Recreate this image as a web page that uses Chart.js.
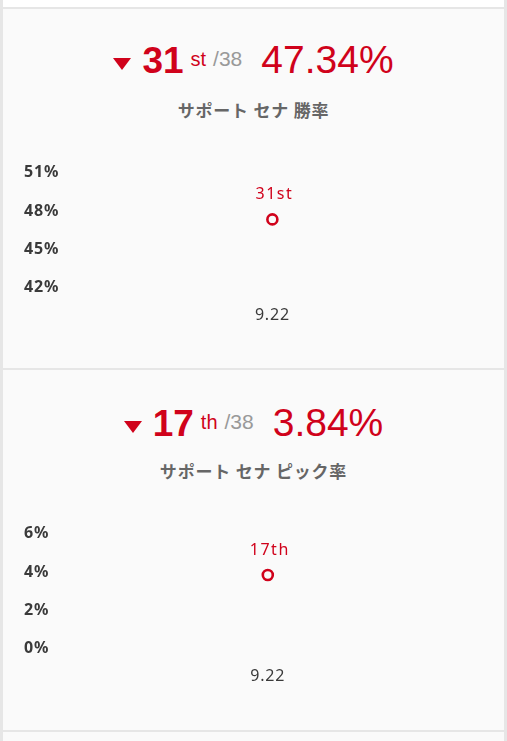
<!DOCTYPE html>
<html lang="ja">
<head>
<meta charset="utf-8">
<title>サポート セナ</title>
<script src="https://cdn.jsdelivr.net/npm/chart.js@4/dist/chart.umd.min.js"></script>
<style>
  html, body { margin:0; padding:0; }
  body { width:507px; height:741px; background:#e6e6e6; position:relative; overflow:hidden;
         font-family:"Liberation Sans", Arial, sans-serif; }
  .strip { position:absolute; left:3px; width:501px; }
  .top   { top:0; height:7px; background:#fff; }
  .panel { background:#fafafa; }
  .head  { position:absolute; left:0; width:100%; text-align:center; white-space:nowrap; color:#d0021b; }
  .tri   { display:inline-block; width:0; height:0; border-left:9.5px solid transparent;
           border-right:9.5px solid transparent; border-top:12px solid #d0021b; margin-right:11px;
           vertical-align:3px; }
  .rank  { font-size:37px; font-weight:bold; }
  .suf   { font-size:20px; position:relative; top:-7px; margin-left:7px; }
  .tot   { font-size:21px; color:#999; position:relative; top:-7px; margin-left:7px; }
  .pct   { font-size:39px; margin-left:19px; }
  .sub   { position:absolute; left:0; width:100%; text-align:center; color:#666; font-weight:bold;
           font-size:17px; letter-spacing:0.8px; font-family:"Noto Sans CJK JP", sans-serif; }
  .cv    { position:absolute; left:0; width:507px; height:200px; }
</style>
</head>
<body>
<div class="strip top"></div>
<div class="strip panel" style="top:9px;height:359px">
  <div class="head" style="top:29px"><span class="tri"></span><span class="rank" id="r1"></span><span class="suf" id="s1"></span><span class="tot" id="t1"></span><span class="pct" id="p1"></span></div>
  <div class="sub" id="l1" style="top:88px"></div>
</div>
<div class="strip panel" style="top:370px;height:360px">
  <div class="head" style="top:31px"><span class="tri"></span><span class="rank" id="r2"></span><span class="suf" id="s2"></span><span class="tot" id="t2"></span><span class="pct" id="p2"></span></div>
  <div class="sub" id="l2" style="top:88px"></div>
</div>
<div class="strip panel" style="top:732px;height:20px"></div>

<div class="cv" style="top:150px"><canvas id="c1"></canvas></div>
<div class="cv" style="top:511px"><canvas id="c2"></canvas></div>

<script>
// データ
const patches     = ['9.22'];
const totalChamps = 38;

const winTitle  = 'サポート セナ 勝率';
const winRate   = [47.34];
const winRank   = [31];
const winTicks  = [42, 45, 48, 51];

const pickTitle = 'サポート セナ ピック率';
const pickRate  = [3.84];
const pickRank  = [17];
const pickTicks = [0, 2, 4, 6];

const RED = '#d0021b';

const ordinal = n => {
  const t = n % 100;
  if (t >= 11 && t <= 13) return 'th';
  return ({1:'st', 2:'nd', 3:'rd'})[n % 10] || 'th';
};

function paintHeader(i, rank, rate, title){
  const last = rank.length - 1;
  document.getElementById('r'+i).textContent = rank[last];
  document.getElementById('s'+i).textContent = ordinal(rank[last]);
  document.getElementById('t'+i).textContent = '/' + totalChamps;
  document.getElementById('p'+i).textContent = rate[last].toFixed(2) + '%';
  document.getElementById('l'+i).textContent = title;
}

// 文字間を少し広げる
const spacing = {
  id: 'spacing',
  beforeDraw(chart){ chart.ctx.letterSpacing = '0.8px'; }
};

// 点の上に順位を表示
const rankLabels = {
  id: 'rankLabels',
  afterDatasetsDraw(chart, args, opts){
    const ctx = chart.ctx;
    const meta = chart.getDatasetMeta(0);
    ctx.save();
    ctx.font = '16px "Noto Sans", sans-serif';
    ctx.fillStyle = RED;
    ctx.textAlign = 'center';
    ctx.textBaseline = 'middle';
    ctx.letterSpacing = '1.5px';
    meta.data.forEach((pt, k) => {
      const r = opts.ranks[k];
      ctx.fillText(r + ordinal(r), pt.x + 2, pt.y - 25);
    });
    ctx.restore();
  }
};

function makeChart(id, values, ranks, ticks){
  return new Chart(document.getElementById(id).getContext('2d'), {
    type: 'line',
    data: {
      labels: patches,
      datasets: [{
        data: values,
        borderColor: RED,
        backgroundColor: '#fafafa',
        pointRadius: 5,
        pointBorderWidth: 2.6,
        pointBorderColor: RED,
        pointBackgroundColor: '#fafafa',
        showLine: false
      }]
    },
    options: {
      responsive: true,
      maintainAspectRatio: false,
      animation: false,
      layout: { padding: { left: 24, right: 35, top: 22.7, bottom: 7.3 } },
      plugins: {
        legend: { display: false },
        tooltip: { enabled: false },
        rankLabels: { ranks }
      },
      scales: {
        x: {
          offset: true,
          grid: { display: false, drawTicks: false },
          border: { display: false },
          ticks: { color: '#3a3a3a', padding: 18, font: { family: '"Noto Sans", sans-serif', size: 16 } }
        },
        y: {
          min: ticks[0],
          max: ticks[ticks.length - 1],
          grid: { display: false, drawTicks: false },
          border: { display: false },
          ticks: {
            stepSize: ticks[1] - ticks[0],
            color: '#3a3a3a',
            padding: 8,
            crossAlign: 'far',
            font: { family: '"Noto Sans", sans-serif', size: 16, weight: 'bold' },
            callback: v => v + '%'
          }
        }
      }
    },
    plugins: [spacing, rankLabels]
  });
}

paintHeader(1, winRank, winRate, winTitle);
paintHeader(2, pickRank, pickRate, pickTitle);
makeChart('c1', winRate, winRank, winTicks);
makeChart('c2', pickRate, pickRank, pickTicks);
</script>
</body>
</html>
